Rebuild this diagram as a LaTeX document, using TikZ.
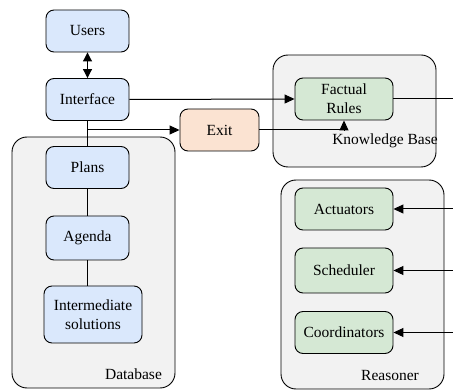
\documentclass[tikz,border=0pt]{standalone}
\usepackage{fontspec}
\setmainfont{Liberation Serif}
\usetikzlibrary{arrows.meta}
\definecolor{dbblue}{HTML}{DAE8FC}
\definecolor{kbgreen}{HTML}{D5E8D4}
\definecolor{exitorange}{HTML}{FBE3D2}
\definecolor{groupgray}{HTML}{F2F2F2}
\tikzstyle{box}=[rectangle,draw,rounded corners=8pt,line width=0.9pt,minimum width=83pt,minimum height=42pt,align=center,font=\fontsize{15.5}{19}\selectfont]
\tikzstyle{group}=[rectangle,draw,rounded corners=15pt,line width=0.9pt,fill=groupgray]
\tikzstyle{grouplabel}=[font=\fontsize{15.5}{19}\selectfont]
\tikzstyle{arrow}=[-{Triangle[length=10pt,width=9pt]},line width=1pt]
\tikzstyle{biarrow}=[{Triangle[length=9pt,width=9pt]}-{Triangle[length=9pt,width=9pt]},line width=1pt]
\tikzstyle{link}=[line width=1pt]

\begin{document}
\begin{tikzpicture}[x=1pt,y=-1pt]
\useasboundingbox (0,0) rectangle (453,390);

% containers
\node (database) [group,minimum width=163pt,minimum height=251pt] at (93.5,262.5) {};
\node (knowledge) [group,minimum width=163pt,minimum height=112pt] at (354.5,111) {};
\node (reasoner) [group,minimum width=163pt,minimum height=209pt] at (362.5,284.5) {};
\node (dblabel) [grouplabel] at (133.5,374) {Database};
\node (kblabel) [grouplabel] at (385,141) {Knowledge Base};
\node (rslabel) [grouplabel] at (390,376) {Reasoner};

% blue boxes
\node (users) [box,fill=dbblue] at (87.5,31) {Users};
\node (interface) [box,fill=dbblue] at (87.5,99.5) {Interface};
\node (plans) [box,fill=dbblue] at (87.5,167.5) {Plans};
\node (agenda) [box,fill=dbblue,minimum height=44pt] at (87.5,238) {Agenda};
\node (solutions) [box,fill=dbblue,minimum width=98pt,minimum height=57pt] at (93,314.5) {Intermediate\\solutions};

% exit and green boxes
\node (exit) [box,fill=exitorange,minimum width=79pt] at (219.5,130) {Exit};
\node (rules) [box,fill=kbgreen,minimum width=98pt] at (344,99) {Factual\\Rules};
\node (actuators) [box,fill=kbgreen,minimum width=98pt] at (344,209) {Actuators};
\node (scheduler) [box,fill=kbgreen,minimum width=98pt,minimum height=45pt] at (344,270.5) {Scheduler};
\node (coordinators) [box,fill=kbgreen,minimum width=98pt] at (344,332.5) {Coordinators};

% free ends on the right border
\coordinate (rulesout) at (453,99);
\coordinate (actin) at (453,209);
\coordinate (schin) at (453,270.5);
\coordinate (coordin) at (453,332.5);
\coordinate (split) at (87.5,130);

\draw [biarrow] (users) -- (interface);
\draw [arrow] (interface.east) -- (rules.west);
\draw [link] (interface) -- (plans);
\draw [arrow] (split) -- (exit.west);
\draw [arrow] (exit.east) -| (rules.south);
\draw [link] (rules.east) -- (rulesout);
\draw [link] (plans) -- (agenda);
\draw [link] (agenda) -- (agenda |- solutions.north);
\draw [arrow] (actin) -- (actuators.east);
\draw [arrow] (schin) -- (scheduler.east);
\draw [arrow] (coordin) -- (coordinators.east);

\end{tikzpicture}
\end{document}
